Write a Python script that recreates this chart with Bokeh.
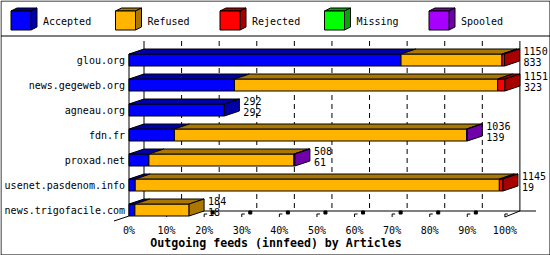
from bokeh.plotting import figure
from bokeh.embed import file_html
from bokeh.resources import INLINE
from bokeh.core.properties import value
from bokeh.models import Range1d

# ---------------- data ----------------
categories = ["glou.org", "news.gegeweb.org", "agneau.org", "fdn.fr",
              "proxad.net", "usenet.pasdenom.info", "news.trigofacile.com"]
offered = [1150, 1151, 292, 1036, 508, 1145, 184]
accepted = [833, 323, 292, 139, 61, 19, 18]
refused = [309, 806, 0, 895, 444, 1115, 166]
rejected = [8, 22, 0, 0, 0, 11, 0]
missing = [0, 0, 0, 0, 0, 0, 0]
spooled = [0, 0, 0, 2, 3, 0, 0]
series_names = ["Accepted", "Refused", "Rejected", "Missing", "Spooled"]
tick_values = [0, 10, 20, 30, 40, 50, 60, 70, 80, 90, 100]
tick_labels = ["0%", "10%", "20%", "30%", "40%", "50%", "60%", "70%", "80%", "90%", "100%"]
title_text = "Outgoing feeds (innfeed) by Articles"

# ---------------- styles / layout ----------------
FRONT = ["#0000FF", "#FFB400", "#FF0000", "#00FF00", "#A800FF"]
SIDE = ["#0000A8", "#AA7800", "#A80000", "#00A800", "#7000A8"]
MONO = value("DejaVu Sans Mono")

W, H = 550, 255
PXP = 3.759          # pixels per percent
X0 = 128             # pixel column of 0% (front plane)
ROW = 25             # pixels per category
YREF = 209           # pixel row of the bottom category centre
DXP, DYP = 15, 5     # 3-D depth in pixels


def xpx(c):
    return (c - X0) / PXP


def ypx(r):
    return (YREF - r) / ROW


DX = DXP / PXP
DY = DYP / ROW
HALF = 6 / ROW

p = figure(width=W, height=H, output_backend="svg", toolbar_location=None,
           x_range=Range1d(xpx(-0.5), xpx(W - 0.5)),
           y_range=Range1d(ypx(H - 0.5), ypx(-0.5)),
           x_axis_location=None, y_axis_location=None,
           min_border=0, min_border_left=0, min_border_right=0,
           min_border_top=0, min_border_bottom=0)
p.outline_line_color = None
p.grid.visible = False
p.background_fill_color = "white"
p.border_fill_color = "white"

# ---------------- frame borders ----------------
p.segment(x0=[xpx(0), xpx(549), xpx(0), xpx(0), xpx(0)],
          y0=[ypx(0), ypx(0), ypx(0), ypx(254), ypx(35)],
          x1=[xpx(0), xpx(549), xpx(549), xpx(549), xpx(549)],
          y1=[ypx(254), ypx(254), ypx(0), ypx(254), ypx(35)],
          line_color="black", line_width=1)

# ---------------- back plane ----------------
top_back = ypx(40)
bot_back = ypx(210)
grid_x = [v + DX for v in tick_values[1:-1]]
p.segment(x0=grid_x, y0=[top_back] * len(grid_x), x1=grid_x, y1=[bot_back] * len(grid_x),
          line_color="black", line_width=1, line_dash="5 4")
p.segment(x0=[DX, 100 + DX, DX, 0, xpx(113), 100],
          y0=[top_back, top_back, bot_back, ypx(53), ypx(220), ypx(216)],
          x1=[DX, 100 + DX, xpx(535), 0, 0, 100 + DX],
          y1=[bot_back, bot_back, bot_back, ypx(215), ypx(215), ypx(210)],
          line_color="black", line_width=1)

# tick marks on the floor
tx0, ty0, tx1, ty1 = [], [], [], []
sq_l, sq_r, sq_t, sq_b = [], [], [], []
for v in tick_values[1:]:
    tx0 += [v, v]
    ty0 += [ypx(216), ypx(213)]
    tx1 += [v, v + 3 / PXP]
    ty1 += [ypx(213), ypx(213)]
    if v < 100:
        sq_l.append(v + 7 / PXP)
        sq_r.append(v + 10 / PXP)
        sq_t.append(ypx(210))
        sq_b.append(ypx(213))
p.segment(x0=tx0, y0=ty0, x1=tx1, y1=ty1, line_color="black", line_width=1)
p.quad(left=sq_l, right=sq_r, top=sq_t, bottom=sq_b, fill_color="black", line_color="black")

# ---------------- bars ----------------
series = [accepted, refused, rejected, missing, spooled]
scale = 100.0 / max(offered)
n = len(categories)
xs, ys, cols = [], [], []
for i in range(n):
    k = n - 1 - i
    b, t = k - HALF, k + HALF
    left = 0.0
    segs = []
    for j, s in enumerate(series):
        w = s[i] * scale
        if w > 0:
            segs.append((left, left + w, j))
            left += w
    for (l, r, j) in segs:
        xs.append([l, r, r, l]); ys.append([b, b, t, t]); cols.append(FRONT[j])
        xs.append([l, r, r + DX, l + DX]); ys.append([t, t, t + DY, t + DY]); cols.append(SIDE[j])
    l, r, j = segs[-1]
    xs.append([r, r, r + DX, r + DX]); ys.append([b, t, t + DY, b + DY]); cols.append(SIDE[j])
p.patches(xs=xs, ys=ys, fill_color=cols, line_color="black", line_width=1)

# value labels (offered / accepted)
lab_x = [o * scale + DX + 4 / PXP for o in offered]
lab_y_top = [n - 1 - i + 9 / ROW for i in range(n)]
lab_y_bot = [n - 1 - i - 1.5 / ROW for i in range(n)]
p.text(x=lab_x + lab_x, y=lab_y_top + lab_y_bot,
       text=[str(o) for o in offered] + [str(a) for a in accepted],
       text_font=MONO, text_font_size="10px", text_align="left",
       text_baseline="middle", text_color="black")

# category labels
p.text(x=[xpx(124)] * n, y=[n - 1 - i for i in range(n)], text=categories,
       text_font=MONO, text_font_size="10px", text_align="right",
       text_baseline="middle", text_color="black")

# tick labels
p.text(x=tick_values, y=[ypx(229)] * len(tick_values), text=tick_labels,
       text_font=MONO, text_font_size="10px", text_align="center",
       text_baseline="middle", text_color="black")

# axis title
p.text(x=[xpx(275)], y=[ypx(241.5)], text=[title_text],
       text_font=MONO, text_font_size="11.6px", text_font_style="bold",
       text_align="center", text_baseline="middle", text_color="black")

# ---------------- legend ----------------
lxs, lys, lcols = [], [], []
ltx, lty = [], []
for j, name in enumerate(series_names):
    x0 = 10 + 104.5 * j
    l, r = xpx(x0), xpx(x0 + 20)
    t, b = ypx(10), ypx(29)
    ddx, ddy = 6 / PXP, 3 / ROW
    lxs.append([l, r, r + ddx, l + ddx]); lys.append([t, t, t + ddy, t + ddy]); lcols.append(SIDE[j])
    lxs.append([r, r, r + ddx, r + ddx]); lys.append([b, t, t + ddy, b + ddy]); lcols.append(SIDE[j])
    lxs.append([l, r, r, l]); lys.append([b, b, t, t]); lcols.append(FRONT[j])
    ltx.append(xpx(x0 + 32)); lty.append(ypx(20))
p.patches(xs=lxs, ys=lys, fill_color=lcols, line_color="black", line_width=1)
p.text(x=ltx, y=lty, text=series_names, text_font=MONO, text_font_size="10px",
       text_align="left", text_baseline="middle", text_color="black")

open("out.html", "w").write(file_html(p, INLINE))
